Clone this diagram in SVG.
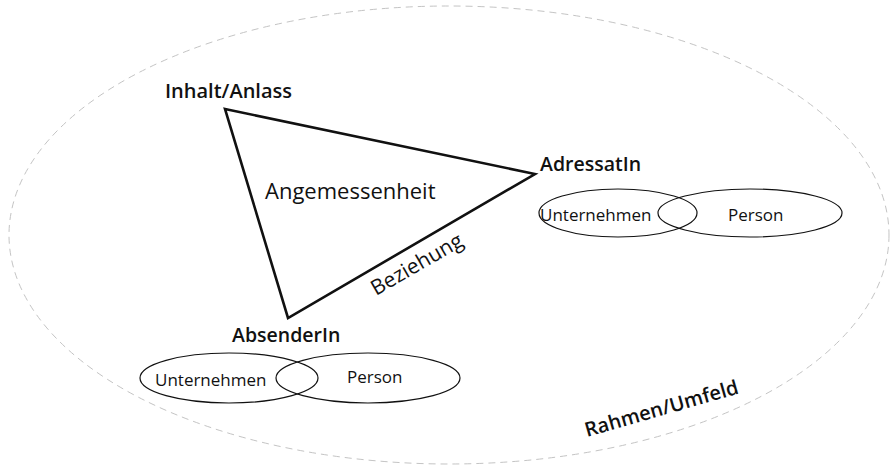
<svg xmlns="http://www.w3.org/2000/svg" width="890" height="466" viewBox="0 0 890 466">
<style>
text{font-family:"Open Sans","Noto Sans","Liberation Sans",sans-serif;fill:#111}
.lbl{font-size:19.5px;font-weight:600}
.sm{font-size:17px}
.big{font-size:22px}
.el{fill:none;stroke:#111;stroke-width:1.2}
.frame{fill:none;stroke:#c4c4c4;stroke-width:1;stroke-dasharray:7,5}
.tri{fill:none;stroke:#111;stroke-width:2.6;stroke-linejoin:miter}
</style>
<rect width="890" height="466" fill="#fff"/>
<g id="frame">
<ellipse class="frame" cx="449" cy="235" rx="440" ry="229"/>
<text class="lbl" x="587" y="437" transform="rotate(-16 587 437)" style="font-size:20px">Rahmen/Umfeld</text>
</g>
<g id="connectors">
<polygon class="tri" points="225,109 535,174 288,318"/>
<text x="376" y="296" transform="rotate(-30 376 296)" style="font-size:21px">Beziehung</text>
</g>
<g id="center">
<text class="big" x="265" y="199">Angemessenheit</text>
</g>
<g id="inhalt">
<text class="lbl" x="165" y="98" style="font-size:20px">Inhalt/Anlass</text>
</g>
<g id="adressat">
<text class="lbl" x="540" y="171">AdressatIn</text>
<ellipse class="el" cx="618" cy="213" rx="79" ry="24"/>
<ellipse class="el" cx="750" cy="213" rx="92" ry="24"/>
<text class="sm" x="540" y="221">Unternehmen</text>
<text class="sm" x="728" y="221">Person</text>
</g>
<g id="absender">
<text class="lbl" x="232" y="342">AbsenderIn</text>
<ellipse class="el" cx="229" cy="378" rx="89" ry="25"/>
<ellipse class="el" cx="368" cy="378" rx="92" ry="25"/>
<text class="sm" x="155" y="386">Unternehmen</text>
<text class="sm" x="347" y="383">Person</text>
</g>
</svg>
